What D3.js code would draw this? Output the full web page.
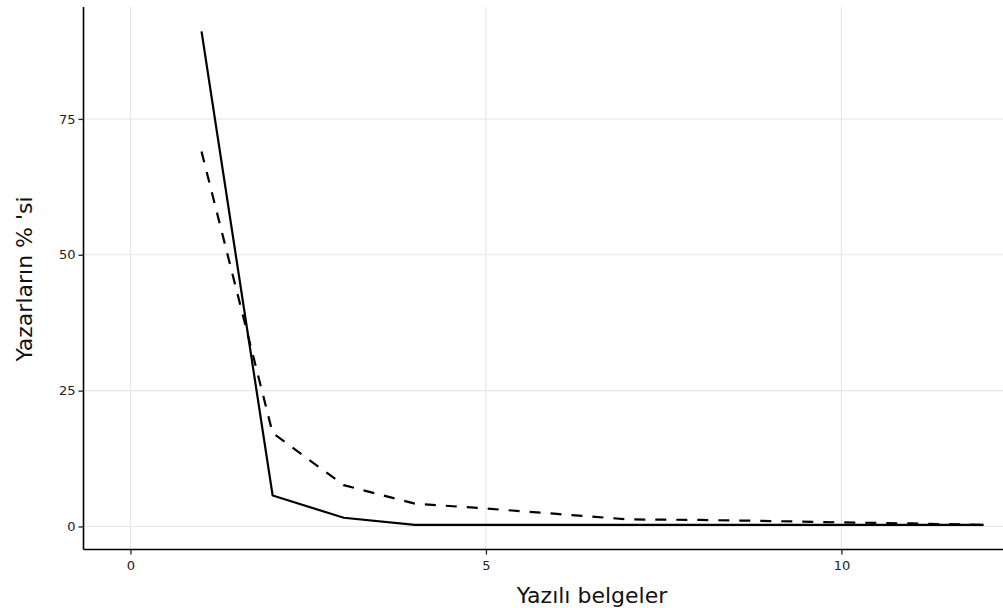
<!DOCTYPE html>
<html><head><meta charset="utf-8">
<script src="https://cdn.jsdelivr.net/npm/d3@7"></script>
<style>body{margin:0;background:#fff}svg{display:block}</style>
</head><body>
<script>
const documents = [1,2,3,4,5,6,7,8,9,10,11,12];
const solidSeries = [91.1,5.7,1.6,0.3,0.3,0.3,0.3,0.3,0.3,0.3,0.3,0.3];
const dashedSeries = [69.0,17.2,7.6,4.2,3.3,2.3,1.3,1.2,1.0,0.75,0.55,0.3];
const xTicks = [0,5,10];
const yTicks = [0,25,50,75];

(function(){
const W=1003,H=608;
const svg=d3.select("body").append("svg").attr("width",W).attr("height",H);
const pl=83.5, pb=549.5, pt=7;
const x=d3.scaleLinear().domain([-0.66,12.6]).range([pl,pl+13.26*71.1]);
const y=d3.scaleLinear().domain([-4.24,95.6]).range([pb,pt]);
const font="DejaVu Sans, Verdana, sans-serif";

const g=svg.append("g");
g.selectAll(".vg").data(xTicks).join("line").attr("x1",d=>x(d)).attr("x2",d=>x(d))
 .attr("y1",pt).attr("y2",pb).attr("stroke","#e6e6e6").attr("stroke-width",1.1);
g.selectAll(".hg").data(yTicks).join("line").attr("y1",d=>y(d)).attr("y2",d=>y(d))
 .attr("x1",pl).attr("x2",W).attr("stroke","#e6e6e6").attr("stroke-width",1.1);

const xa=svg.append("g").attr("transform",`translate(0,${pb})`)
 .call(d3.axisBottom(x).tickValues(xTicks).tickSize(5).tickPadding(6).tickFormat(d3.format("d")));
const ya=svg.append("g").attr("transform",`translate(${pl},0)`)
 .call(d3.axisLeft(y).tickValues(yTicks).tickSize(5).tickPadding(3).tickFormat(d3.format("d")));
[xa,ya].forEach(a=>{
  a.select(".domain").attr("stroke","#000").attr("stroke-width",1.6);
  a.selectAll(".tick line").attr("stroke","#222").attr("stroke-width",1.3);
  a.selectAll("text").attr("font-family",font).attr("font-size",13).attr("fill","#222");
});
xa.select(".domain").attr("d",`M${pl},0H${W}`);
ya.select(".domain").attr("d",`M0,${pt}V${pb}`);

const line=d3.line().x((d,i)=>x(documents[i])).y(d=>y(d));
svg.append("path").datum(dashedSeries).attr("d",line).attr("fill","none")
 .attr("stroke","#000").attr("stroke-width",2.2).attr("stroke-dasharray","11,10");
svg.append("path").datum(solidSeries).attr("d",line).attr("fill","none")
 .attr("stroke","#000").attr("stroke-width",2.2);

svg.append("text").attr("x",592).attr("y",603).attr("text-anchor","middle")
 .attr("font-family",font).attr("font-size",22).attr("fill","#111")
 .text("Yazılı belgeler");
svg.append("text").attr("transform","translate(32,279) rotate(-90)").attr("text-anchor","middle")
 .attr("font-family",font).attr("font-size",22).attr("fill","#111")
 .text("Yazarların % 'si");
})();
</script>
</body></html>
